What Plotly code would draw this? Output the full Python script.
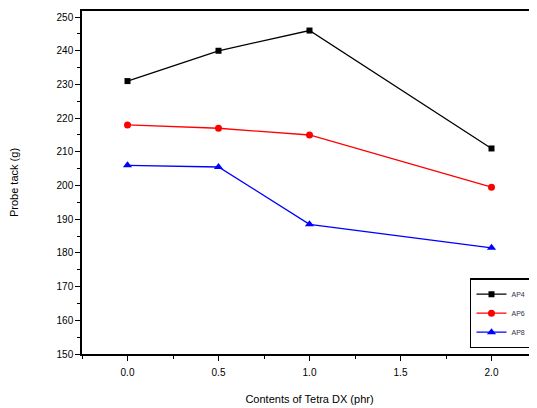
import plotly.graph_objects as go

x_vals = [0.0, 0.5, 1.0, 2.0]
ap4 = [231, 240, 246, 211]
ap6 = [218, 217, 215, 199.5]
ap8 = [206, 205.5, 188.5, 181.5]
names = ["AP4", "AP6", "AP8"]
x_ticks = [0.0, 0.5, 1.0, 1.5, 2.0]
x_tick_text = ["0.0", "0.5", "1.0", "1.5", "2.0"]
y_ticks = list(range(150, 251, 10))

fig = go.Figure()
styles = [("black", "square", 6), ("red", "circle", 7), ("blue", "triangle-up", 8)]
for name, ys, (c, sym, sz) in zip(names, [ap4, ap6, ap8], styles):
    fig.add_trace(go.Scatter(x=x_vals, y=ys, mode="lines+markers", name=name,
                             line=dict(color=c, width=1.3),
                             marker=dict(color=c, symbol=sym, size=sz)))

fig.update_layout(
    width=529, height=400,
    margin=dict(l=74, r=0, t=3, b=54, autoexpand=False),
    paper_bgcolor="white", plot_bgcolor="white",
    font=dict(family="Liberation Sans, Arial, sans-serif", color="black", size=10),
    showlegend=True,
    legend=dict(x=0.989, y=0.017, xanchor="right", yanchor="bottom",
                bordercolor="black", borderwidth=1.5, bgcolor="white",
                font=dict(size=7, color="#334"), tracegroupgap=0,
                itemwidth=30),
)
fig.update_xaxes(range=[-0.25, 2.25], tickvals=x_ticks, ticktext=x_tick_text,
                 showline=True, linecolor="black", linewidth=1.5, mirror=True,
                 ticks="outside", ticklen=5, tickwidth=1, tickcolor="black",
                 ticklabelstandoff=3,
                 minor=dict(dtick=0.25, tick0=0, ticks="outside", ticklen=3, tickcolor="black"),
                 showgrid=False, zeroline=False, automargin=False,
                 title=dict(text="Contents of Tetra DX (phr)", font=dict(size=11), standoff=19))
fig.update_yaxes(range=[150, 251.8], tickvals=y_ticks,
                 showline=True, linecolor="black", linewidth=1.5, mirror=False,
                 ticks="outside", ticklen=5, tickwidth=1, tickcolor="black",
                 minor=dict(dtick=5, tick0=150, ticks="outside", ticklen=3, tickcolor="black"),
                 showgrid=False, zeroline=False, automargin=False,
                 title=dict(text="Probe tack (g)", font=dict(size=11), standoff=43))

fig.write_html("out.html")
